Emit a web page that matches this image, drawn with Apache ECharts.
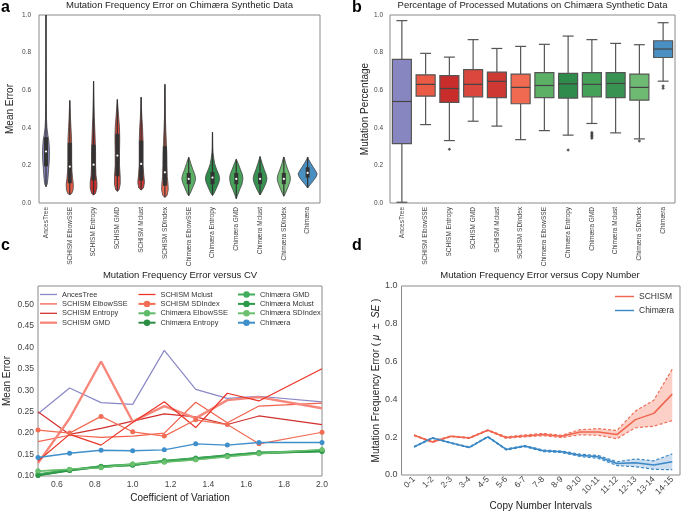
<!DOCTYPE html>
<html><head><meta charset="utf-8">
<script src="https://cdn.jsdelivr.net/npm/echarts@6/dist/echarts.min.js"></script>
<style>html,body{margin:0;padding:0;background:#fff}#c{width:685px;height:512px}</style>
</head><body><div id="c"></div>
<script>
// ---------- categories ----------
const methods = ['AncesTree','SCHISM ElbowSSE','SCHISM Entropy','SCHISM GMD','SCHISM Mclust','SCHISM SDIndex',
  'Chimæra ElbowSSE','Chimæra Entropy','Chimæra GMD','Chimæra Mclust','Chimæra SDIndex','Chimæra'];
const colors = ['#8886c0','#ea5a45','#c92d2b','#db473c','#cf3933','#ef6a50',
  '#5cb066','#2e8b4b','#45a058','#389352','#6fba72','#4a8fc2'];

// ---------- panel a: violin profiles [value, half width in category units] ----------
const violinProfiles = [
  [[0.087,0],[0.1,0.05],[0.13,0.08],[0.18,0.11],[0.23,0.14],[0.28,0.145],[0.33,0.12],[0.36,0.08],[0.4,0.04],[0.45,0.02],[0.55,0.01],[0.7,0.006],[1.0,0]],
  [[0.044,0],[0.05,0.08],[0.07,0.14],[0.1,0.15],[0.13,0.12],[0.17,0.09],[0.22,0.08],[0.28,0.08],[0.34,0.075],[0.4,0.05],[0.45,0.03],[0.5,0.015],[0.545,0]],
  [[0.043,0],[0.05,0.08],[0.08,0.14],[0.11,0.14],[0.15,0.1],[0.2,0.085],[0.27,0.085],[0.33,0.07],[0.4,0.05],[0.46,0.03],[0.55,0.012],[0.648,0]],
  [[0.062,0],[0.07,0.07],[0.1,0.12],[0.14,0.12],[0.2,0.09],[0.27,0.09],[0.34,0.1],[0.4,0.09],[0.45,0.06],[0.5,0.03],[0.551,0]],
  [[0.069,0],[0.08,0.1],[0.11,0.14],[0.15,0.11],[0.2,0.08],[0.27,0.08],[0.33,0.08],[0.4,0.06],[0.45,0.035],[0.5,0.015],[0.563,0]],
  [[0.03,0],[0.04,0.09],[0.07,0.14],[0.1,0.13],[0.14,0.1],[0.2,0.085],[0.26,0.08],[0.32,0.06],[0.38,0.04],[0.45,0.02],[0.55,0.008],[0.631,0]],
  [[0.039,0],[0.05,0.06],[0.08,0.16],[0.11,0.26],[0.13,0.29],[0.15,0.26],[0.18,0.17],[0.21,0.09],[0.23,0.04],[0.243,0]],
  [[0.04,0],[0.05,0.06],[0.08,0.17],[0.11,0.27],[0.13,0.3],[0.15,0.27],[0.18,0.17],[0.21,0.09],[0.24,0.05],[0.27,0.02],[0.3,0.008],[0.377,0]],
  [[0.023,0],[0.04,0.05],[0.07,0.14],[0.1,0.24],[0.13,0.28],[0.15,0.26],[0.18,0.17],[0.21,0.08],[0.233,0]],
  [[0.043,0],[0.055,0.06],[0.08,0.16],[0.11,0.26],[0.13,0.29],[0.15,0.26],[0.18,0.17],[0.21,0.09],[0.235,0.03],[0.247,0]],
  [[0.036,0],[0.05,0.06],[0.08,0.16],[0.11,0.25],[0.13,0.28],[0.15,0.25],[0.18,0.16],[0.21,0.08],[0.235,0.03],[0.245,0]],
  [[0.08,0],[0.1,0.12],[0.12,0.25],[0.14,0.36],[0.155,0.4],[0.17,0.34],[0.19,0.24],[0.21,0.14],[0.23,0.05],[0.245,0]]
];
// [low, q1, median, q3, high]
const violinStats = [
  [0.087,0.195,0.274,0.35,1.0],[0.044,0.105,0.194,0.32,0.545],[0.043,0.12,0.204,0.31,0.648],
  [0.062,0.142,0.252,0.368,0.551],[0.069,0.119,0.208,0.332,0.563],[0.03,0.092,0.163,0.302,0.631],
  [0.039,0.1,0.128,0.16,0.243],[0.04,0.1,0.135,0.165,0.377],[0.023,0.1,0.128,0.16,0.233],
  [0.043,0.1,0.128,0.16,0.247],[0.036,0.1,0.128,0.16,0.245],[0.08,0.135,0.16,0.19,0.245]
];

// ---------- panel b: boxes [min, q1, median, q3, max] ----------
const boxStats = [
  [0.004,0.316,0.540,0.764,0.970],[0.417,0.568,0.631,0.682,0.796],[0.332,0.535,0.609,0.677,0.776],
  [0.435,0.565,0.631,0.709,0.869],[0.409,0.561,0.647,0.696,0.822],[0.337,0.528,0.615,0.686,0.833],
  [0.385,0.560,0.625,0.693,0.844],[0.361,0.558,0.634,0.689,0.888],[0.423,0.565,0.631,0.694,0.869],
  [0.373,0.560,0.636,0.694,0.849],[0.341,0.547,0.615,0.686,0.842],[0.648,0.774,0.819,0.863,0.959]
];
const boxOutliers = [[2,0.286],[7,0.282],[8,0.375],[8,0.367],[8,0.36],[8,0.352],[8,0.345],[10,0.330],[11,0.622],[11,0.61]];

// ---------- panel c ----------
const cvValues = [0.5,0.667,0.833,1.0,1.167,1.333,1.5,1.667,2.0];
const ancesTreeCV   = [0.245,0.305,0.271,0.267,0.393,0.302,0.281,0.286,0.273];
const schismElbowCV = [0.18,0.195,0.19,0.193,0.2,0.272,0.224,0.263,0.27];
const schismEntropyCV = [0.25,0.197,0.211,0.228,0.245,0.238,0.22,0.24,0.22];
const schismGmdCV   = [0.13,0.234,0.367,0.227,0.263,0.235,0.277,0.284,0.258];
const schismMclustCV = [0.135,0.197,0.172,0.225,0.273,0.213,0.293,0.275,0.35];
const schismSdCV    = [0.207,0.2,0.239,0.203,0.193,0.231,0.22,0.175,0.202];
const chimElbowCV   = [0.111,0.115,0.12,0.127,0.133,0.138,0.146,0.152,0.16];
const chimEntropyCV = [0.102,0.113,0.122,0.126,0.134,0.141,0.148,0.154,0.158];
const chimGmdCV     = [0.105,0.115,0.123,0.128,0.136,0.142,0.148,0.155,0.16];
const chimMclustCV  = [0.101,0.113,0.121,0.125,0.133,0.14,0.147,0.153,0.157];
const chimSdCV      = [0.112,0.116,0.119,0.128,0.132,0.138,0.145,0.152,0.162];
const chimaeraCV    = [0.143,0.153,0.16,0.159,0.161,0.175,0.172,0.178,0.178];
const cvSeriesValues = [ancesTreeCV,schismElbowCV,schismEntropyCV,schismGmdCV,schismMclustCV,schismSdCV,
  chimElbowCV,chimEntropyCV,chimGmdCV,chimMclustCV,chimSdCV,chimaeraCV];
const cvTicks = [0.6,0.8,1.0,1.2,1.4,1.6,1.8,2.0];
const cvYTicks = [0.10,0.15,0.20,0.25,0.30,0.35,0.40,0.45,0.50];

// ---------- panel d ----------
const copyIntervals = ['0-1','1-2','2-3','3-4','4-5','5-6','6-7','7-8','8-9','9-10','10-11','11-12','12-13','13-14','14-15'];
const schismMean  = [0.21,0.175,0.205,0.196,0.237,0.198,0.207,0.214,0.205,0.228,0.228,0.214,0.293,0.326,0.428];
const schismUpper = [0.212,0.178,0.207,0.198,0.239,0.202,0.212,0.22,0.21,0.24,0.245,0.236,0.338,0.396,0.56];
const schismLower = [0.208,0.172,0.203,0.194,0.235,0.194,0.202,0.208,0.198,0.213,0.21,0.192,0.25,0.258,0.288];
const chimMean  = [0.149,0.196,0.17,0.146,0.202,0.135,0.153,0.128,0.123,0.105,0.096,0.061,0.065,0.053,0.07];
const chimUpper = [0.151,0.198,0.172,0.148,0.204,0.138,0.156,0.132,0.127,0.11,0.103,0.07,0.085,0.075,0.112];
const chimLower = [0.147,0.194,0.168,0.144,0.2,0.132,0.15,0.124,0.119,0.098,0.088,0.05,0.044,0.03,0.028];

// ================= build =================
const FONT = 'Liberation Sans';
const chart = echarts.init(document.getElementById('c'), null, {renderer:'canvas'});
const pair = (xs, ys) => xs.map((x,k)=>[x, ys[k]]);
const idx = arr => arr.map((v,k)=>[k, v]);

function renderViolin(params, api) {
  const i = params.dataIndex;
  const prof = violinProfiles[i], st = violinStats[i];
  const pts = [];
  for (const [v,w] of prof) pts.push(api.coord([i - w, v]));
  for (let k = prof.length-1; k >= 0; k--) pts.push(api.coord([i + prof[k][1], prof[k][0]]));
  const lo = api.coord([i, st[0]]), q1 = api.coord([i, st[1]]), md = api.coord([i, st[2]]),
        q3 = api.coord([i, st[3]]), hi = api.coord([i, st[4]]);
  return {type:'group', children:[
    {type:'polygon', shape:{points:pts}, style:{fill:colors[i], stroke:'#444', lineWidth:0.8}},
    {type:'line', shape:{x1:lo[0],y1:lo[1],x2:hi[0],y2:hi[1]}, style:{stroke:'#333', lineWidth:1.2}},
    {type:'line', shape:{x1:q1[0],y1:q1[1],x2:q3[0],y2:q3[1]}, style:{stroke:'#333', lineWidth:4}},
    {type:'circle', shape:{cx:md[0],cy:md[1],r:1.1}, style:{fill:'#fff'}}
  ]};
}
function renderBox(params, api) {
  const i = params.dataIndex;
  const [mn,q1,md,q3,mx] = boxStats[i];
  const band = api.size([1,0])[0];
  const c = api.coord([i, 0])[0];
  const hw = band*0.4, cw = band*0.23;
  const y = v => api.coord([i, v])[1];
  const st = {stroke:'#555', lineWidth:1.2};
  return {type:'group', children:[
    {type:'line', shape:{x1:c,y1:y(q3),x2:c,y2:y(mx)}, style:st},
    {type:'line', shape:{x1:c,y1:y(q1),x2:c,y2:y(mn)}, style:st},
    {type:'line', shape:{x1:c-cw,y1:y(mx),x2:c+cw,y2:y(mx)}, style:st},
    {type:'line', shape:{x1:c-cw,y1:y(mn),x2:c+cw,y2:y(mn)}, style:st},
    {type:'rect', shape:{x:c-hw,y:y(q3),width:2*hw,height:y(q1)-y(q3)}, style:{fill:colors[i], stroke:'#555', lineWidth:1.2}},
    {type:'line', shape:{x1:c-hw,y1:y(md),x2:c+hw,y2:y(md)}, style:{stroke:'#444', lineWidth:1.2}}
  ]};
}
function renderBand(which) {
  const up = which === 0 ? schismUpper : chimUpper;
  const lo = which === 0 ? schismLower : chimLower;
  const fill = which === 0 ? 'rgba(250,150,130,0.45)' : 'rgba(110,160,210,0.35)';
  return function(params, api) {
    if (params.dataIndex !== 0) return null;
    const pts = [];
    for (let k = 0; k < up.length; k++) pts.push(api.coord([k, up[k]]));
    for (let k = lo.length-1; k >= 0; k--) pts.push(api.coord([k, lo[k]]));
    return {type:'polygon', shape:{points:pts}, style:{fill:fill}};
  };
}

const gridBase = {show:true, borderColor:'#8a8a8a', borderWidth:1, backgroundColor:'#fff'};
const noLine = {show:false};
const tickLbl = (sz, extra) => Object.assign({fontSize:sz, color:'#444', fontFamily:FONT}, extra||{});

const cvLineWidth = [1.2,1.2,1.2,2.4,1.2,1.2,1.4,2.4,1.4,1.4,1.4,1.4];
const cvSymbol = [false,false,false,false,false,true,true,true,true,true,true,true];
const cvColors = ['#8a88c6','#f3604c','#d0302e','#f7877a','#ea3426','#f16d55','#5fba6a','#2b8c44','#40ad5a','#2d9a4a','#6cc070','#3f8fcb'];

const series = [];
// a
series.push({type:'custom', xAxisIndex:0, yAxisIndex:0, renderItem:renderViolin,
  data: violinStats.map((s,i)=>[i, s[2]]), silent:true, clip:false});
// b
series.push({type:'custom', xAxisIndex:1, yAxisIndex:1, renderItem:renderBox,
  data: boxStats.map((s,i)=>[i, s[2]]), silent:true});
series.push({type:'scatter', xAxisIndex:1, yAxisIndex:1, symbol:'diamond', symbolSize:3.5,
  itemStyle:{color:'#333'}, data: boxOutliers, silent:true});
// c
methods.forEach((m,i)=>{
  series.push({type:'line', name:m, xAxisIndex:2, yAxisIndex:2, data: pair(cvValues, cvSeriesValues[i]),
    showSymbol: cvSymbol[i], symbol: cvSymbol[i] ? 'circle' : 'none', symbolSize:5,
    lineStyle:{width:cvLineWidth[i], color:cvColors[i]}, itemStyle:{color:cvColors[i]},
    z: 2, silent:true, animation:false});
});
// d
series.push({type:'custom', xAxisIndex:3, yAxisIndex:3, renderItem:renderBand(0), data: idx(schismMean), silent:true, z:1});
series.push({type:'custom', xAxisIndex:3, yAxisIndex:3, renderItem:renderBand(1), data: idx(chimMean), silent:true, z:1});
const dashed = (data,color) => ({type:'line', xAxisIndex:3, yAxisIndex:3, data, symbol:'none',
  lineStyle:{type:[3,2], width:1.2, color}, silent:true, z:2});
series.push(dashed(idx(schismUpper), '#f0705a'));
series.push(dashed(idx(schismLower), '#f0705a'));
series.push(dashed(idx(chimUpper), '#3a88c6'));
series.push(dashed(idx(chimLower), '#3a88c6'));
series.push({type:'line', name:'SCHISM', xAxisIndex:3, yAxisIndex:3, data: idx(schismMean), symbol:'none',
  lineStyle:{width:1.5, color:'#f0654f'}, itemStyle:{color:'#f0654f'}, z:3, silent:true});
series.push({type:'line', name:'Chimæra ', xAxisIndex:3, yAxisIndex:3, data: idx(chimMean), symbol:'none',
  lineStyle:{width:1.5, color:'#3a88c6'}, itemStyle:{color:'#3a88c6'}, z:3, silent:true});

const lineIcon = h => 'path://M0,0L40,0L40,' + h + 'L0,' + h + 'Z';
const legendItems = (from, to) => methods.slice(from, to).map((n, k) => {
  const i = from + k;
  return cvSymbol[i] ? n : {name:n, icon: lineIcon(cvLineWidth[i] > 2 ? 5.5 : 3)};
});
const legendC = (items, left) => ({data:items, orient:'vertical', left, top:291, itemWidth:17, itemHeight:8,
  itemGap:2.4, padding:0, textStyle:{fontSize:7.4, color:'#333', fontFamily:FONT}, selectedMode:false});

const option = {
  animation:false,
  textStyle:{fontFamily:FONT},
  title:[
    {text:'Mutation Frequency Error on Chimæra Synthetic Data', left:179.5, top:0, textAlign:'center', padding:0,
      textStyle:{fontSize:9.5, fontWeight:'normal', color:'#222', fontFamily:FONT}},
    {text:'Percentage of Processed Mutations on Chimæra Synthetic Data', left:532.5, top:0, textAlign:'center', padding:0,
      textStyle:{fontSize:9.5, fontWeight:'normal', color:'#222', fontFamily:FONT}},
    {text:'Mutation Frequency Error versus CV', left:180, top:270.5, textAlign:'center', padding:0,
      textStyle:{fontSize:9.5, fontWeight:'normal', color:'#222', fontFamily:FONT}},
    {text:'Mutation Frequency Error versus Copy Number', left:540, top:270.5, textAlign:'center', padding:0,
      textStyle:{fontSize:9.5, fontWeight:'normal', color:'#222', fontFamily:FONT}}
  ],
  legend:[
    legendC(legendItems(0,4), 40),
    legendC(legendItems(4,8), 137.5),
    legendC(legendItems(8,12), 237),
    {data:[{name:'SCHISM', icon:lineIcon(3)},{name:'Chimæra ', icon:lineIcon(3)}], orient:'vertical', left:615, top:292,
      itemWidth:19, itemHeight:8, itemGap:5, padding:0,
      formatter: n => n.trim(), textStyle:{fontSize:8.5, color:'#333', fontFamily:FONT}, selectedMode:false}
  ],
  grid:[
    Object.assign({left:39, right:365, top:15, bottom:309}, gridBase),
    Object.assign({left:390, right:10, top:15, bottom:309}, gridBase),
    Object.assign({left:38, right:363, top:286, bottom:36}, gridBase),
    Object.assign({left:401.5, right:5, top:286, bottom:35}, gridBase)
  ],
  xAxis:[
    {type:'value', gridIndex:0, min:-0.294, max:11.52, axisLine:noLine, axisTick:noLine, splitLine:noLine,
      axisLabel:tickLbl(6.5, {rotate:90, margin:4, customValues:methods.map((m,i)=>i), formatter:v=>methods[Math.round(v)]})},
    {type:'category', gridIndex:1, data:methods, axisLine:noLine, axisTick:noLine, splitLine:noLine,
      axisLabel:tickLbl(6.5, {rotate:90, margin:4, interval:0})},
    {type:'value', gridIndex:2, min:0.5, max:2.0, axisLine:noLine, axisTick:noLine, splitLine:noLine,
      name:'Coefficient of Variation', nameLocation:'middle', nameGap:17,
      nameTextStyle:{fontSize:10, color:'#222', fontFamily:FONT},
      axisLabel:tickLbl(8.5, {margin:4, customValues:cvTicks, formatter:v=>v.toFixed(1)})},
    {type:'value', gridIndex:3, min:-0.68, max:14.42, axisLine:noLine, axisTick:noLine, splitLine:noLine,
      name:'Copy Number Intervals', nameLocation:'middle', nameGap:26,
      nameTextStyle:{fontSize:10, color:'#222', fontFamily:FONT},
      axisLabel:tickLbl(8.5, {rotate:45, margin:3, customValues:copyIntervals.map((c,i)=>i), formatter:v=>copyIntervals[Math.round(v)]})}
  ],
  yAxis:[
    {type:'value', gridIndex:0, min:0, max:1, interval:0.2, axisLine:noLine, axisTick:noLine, splitLine:noLine,
      name:'Mean Error', nameLocation:'middle', nameGap:24, nameTextStyle:{fontSize:10, color:'#222', fontFamily:FONT},
      axisLabel:tickLbl(6.5, {margin:8, formatter:v=>v.toFixed(1)})},
    {type:'value', gridIndex:1, min:0, max:1, interval:0.2, axisLine:noLine, axisTick:noLine, splitLine:noLine,
      name:'Mutation Percentage', nameLocation:'middle', nameGap:17, nameTextStyle:{fontSize:10, color:'#222', fontFamily:FONT},
      axisLabel:tickLbl(6.5, {margin:7, formatter:v=>v.toFixed(1)})},
    {type:'value', gridIndex:2, min:0.1, max:0.543, axisLine:noLine, axisTick:noLine, splitLine:noLine,
      name:'Mean Error', nameLocation:'middle', nameGap:26, nameTextStyle:{fontSize:10, color:'#222', fontFamily:FONT},
      axisLabel:tickLbl(8.5, {margin:4, customValues:cvYTicks, formatter:v=>v.toFixed(2)})},
    {type:'value', gridIndex:3, min:0, max:1, interval:0.2, axisLine:noLine, axisTick:noLine, splitLine:noLine,
      name:'{n|Mutation Frequency Error ( }{i|μ}{n|  ±  }{i|SE}{n| )}', nameLocation:'middle', nameGap:20,
      nameTextStyle:{fontSize:10, color:'#222', fontFamily:FONT,
        rich:{n:{fontSize:10, color:'#222', fontFamily:FONT}, i:{fontSize:10, color:'#222', fontStyle:'italic', fontFamily:FONT}}},
      axisLabel:tickLbl(9, {margin:4, formatter:v=>v.toFixed(1)})}
  ],
  graphic:[
    {type:'text', x:1, y:7.5, style:{text:'a', font:'bold 16px "Liberation Sans"', fill:'#000', verticalAlign:'middle'}},
    {type:'text', x:352, y:7.5, style:{text:'b', font:'bold 16px "Liberation Sans"', fill:'#000', verticalAlign:'middle'}},
    {type:'text', x:1, y:245.5, style:{text:'c', font:'bold 16px "Liberation Sans"', fill:'#000', verticalAlign:'middle'}},
    {type:'text', x:352, y:245.5, style:{text:'d', font:'bold 16px "Liberation Sans"', fill:'#000', verticalAlign:'middle'}}
  ],
  series
};
chart.setOption(option);
</script>
</body></html>
